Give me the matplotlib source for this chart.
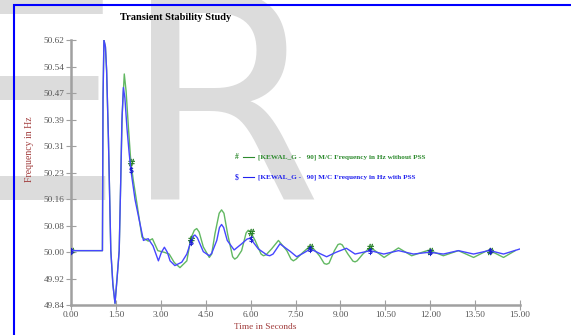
import numpy as np
import matplotlib
matplotlib.use("Agg")
import matplotlib.pyplot as plt
from matplotlib.patches import Rectangle

# ── data ──────────────────────────────────────────────────────
# with PSS (blue)
t_pss = [0.00, 1.05, 1.07, 1.10, 1.15, 1.19, 1.25, 1.33, 1.40, 1.47, 1.54,
         1.61, 1.66, 1.70, 1.75, 1.80, 1.87, 1.94, 2.00, 2.14, 2.28, 2.42,
         2.50, 2.58, 2.74, 2.92, 3.02, 3.12, 3.22, 3.31, 3.47, 3.70, 3.87,
         4.00, 4.08, 4.14, 4.22, 4.42, 4.62, 4.70, 4.87, 4.96, 5.03, 5.10,
         5.22, 5.45, 5.70, 5.88, 5.96, 6.00, 6.26, 6.55, 6.64, 6.75, 6.98,
         7.32, 7.54, 7.75, 8.00, 8.30, 8.54, 8.85, 9.20, 9.49, 10.00, 10.45,
         10.94, 11.44, 11.94, 12.00, 12.44, 12.94, 13.45, 13.95, 14.00,
         14.45, 15.00]
f_pss = [50.000, 50.000, 50.450, 50.620, 50.600, 50.530, 50.330, 50.000,
         49.900, 49.845, 49.920, 50.000, 50.200, 50.380, 50.480, 50.450,
         50.360, 50.290, 50.237, 50.150, 50.090, 50.030, 50.033, 50.035,
         50.014, 49.970, 49.995, 50.010, 49.995, 49.970, 49.956, 49.966,
         49.990, 50.025, 50.042, 50.046, 50.038, 49.997, 49.985, 49.992,
         50.030, 50.068, 50.077, 50.068, 50.030, 50.002, 50.020, 50.034,
         50.036, 50.035, 50.005, 49.987, 49.985, 49.990, 50.020, 49.998,
         49.982, 49.992, 50.005, 49.992, 49.982, 49.995, 50.007, 49.990,
         50.000, 49.990, 50.000, 49.990, 49.995, 49.995, 49.990, 50.000,
         49.990, 50.000, 50.000, 49.990, 50.005]

# without PSS (green)
t_nopss = [0.00, 1.05, 1.07, 1.10, 1.15, 1.19, 1.25, 1.33, 1.40, 1.47, 1.54,
           1.61, 1.66, 1.71, 1.78, 1.84, 1.92, 2.00, 2.08, 2.20, 2.37, 2.58,
           2.72, 2.90, 3.12, 3.28, 3.45, 3.64, 3.87, 4.00, 4.12, 4.20, 4.28,
           4.42, 4.62, 4.70, 4.81, 4.95, 5.03, 5.11, 5.23, 5.40, 5.47, 5.55,
           5.70, 5.85, 5.92, 6.00, 6.15, 6.35, 6.43, 6.52, 6.70, 6.93, 7.21,
           7.35, 7.43, 7.52, 7.75, 7.93, 8.00, 8.08, 8.30, 8.46, 8.54, 8.62,
           8.80, 8.92, 8.99, 9.06, 9.25, 9.42, 9.49, 9.56, 9.75, 10.00,
           10.46, 10.94, 11.38, 11.90, 12.00, 12.44, 12.94, 13.45, 13.90,
           14.00, 14.45, 14.84]
f_nopss = [50.000, 50.000, 50.450, 50.620, 50.600, 50.530, 50.330, 50.000,
           49.900, 49.845, 49.920, 50.000, 50.200, 50.400, 50.520, 50.470,
           50.360, 50.260, 50.208, 50.140, 50.040, 50.028, 50.035, 50.000,
           49.995, 49.990, 49.965, 49.950, 49.970, 50.035, 50.060, 50.065,
           50.055, 50.011, 49.980, 49.990, 50.050, 50.110, 50.120, 50.110,
           50.050, 49.982, 49.975, 49.980, 50.000, 50.052, 50.060, 50.055,
           50.030, 49.990, 49.985, 49.988, 50.005, 50.030, 50.000, 49.975,
           49.970, 49.975, 49.995, 50.009, 50.010, 50.008, 49.985, 49.962,
           49.960, 49.963, 50.000, 50.018, 50.020, 50.017, 49.990, 49.969,
           49.967, 49.970, 49.990, 50.010, 49.980, 50.008, 49.985, 50.000,
           50.000, 49.985, 50.000, 49.980, 50.000, 50.000, 49.980, 50.000]

mark_times = [0, 2, 4, 6, 8, 10, 12, 14]

x_ticks = [0.0, 1.5, 3.0, 4.5, 6.0, 7.5, 9.0, 10.5, 12.0, 13.5, 15.0]
x_labels = ["0.00", "1.50", "3.00", "4.50", "6.00", "7.50", "9.00",
            "10.50", "12.00", "13.50", "15.00"]
y_labels = ["49.84", "49.92", "50.00", "50.08", "50.16", "50.23",
            "50.31", "50.39", "50.47", "50.54", "50.62"]

label_nopss = "[KEWAL_G -   90] M/C Frequency in Hz without PSS"
label_pss = "[KEWAL_G -   90] M/C Frequency in Hz with PSS"

# ── figure ────────────────────────────────────────────────────
plt.rcParams["font.family"] = ["Liberation Serif", "DejaVu Serif"]

fig = plt.figure(figsize=(5.71, 3.35), dpi=100)

# watermark letters behind everything
fig.text(-58 / 571, 1 - 200 / 335, "ER", fontsize=207, family="DejaVu Sans",
         color="#dcdcdc", va="baseline", ha="left", zorder=-5)

# blue frame
fig.patches.append(Rectangle((14 / 571, -0.1), 1.2, (330 / 335) + 0.1,
                             transform=fig.transFigure, fill=False,
                             edgecolor="#0000ff", linewidth=1.5, zorder=-1))

ax = fig.add_axes([71 / 571, 30 / 335, 449 / 571, 265 / 335])
ax.set_facecolor("none")

green = "#62b862"
blue = "#4646ff"

idx_g = [i for i, t in enumerate(t_nopss) if t in mark_times]
idx_b = [i for i, t in enumerate(t_pss) if t in mark_times]

ax.plot(t_nopss, f_nopss, color=green, lw=1.0, marker=r"$\#$",
        markevery=idx_g, markersize=5, markeredgewidth=0.3,
        markerfacecolor="#1e7a1e", markeredgecolor="#1e7a1e", zorder=2)
ax.plot(t_pss, f_pss, color=blue, lw=1.0, marker=r"$\$$",
        markevery=idx_b, markersize=5, markeredgewidth=0.3,
        markerfacecolor="#1a1ad0", markeredgecolor="#1a1ad0", zorder=3)

ax.set_xlim(0, 15)
ax.set_ylim(49.84, 50.62)
ax.set_xticks(x_ticks)
ax.set_xticklabels(x_labels)
ax.set_yticks(np.linspace(49.84, 50.62, len(y_labels)))
ax.set_yticklabels(y_labels)

for s in ["top", "right"]:
    ax.spines[s].set_visible(False)
for s in ["left", "bottom"]:
    ax.spines[s].set_color("#a0a0a0")
    ax.spines[s].set_linewidth(1.8)
ax.tick_params(direction="inout", length=7, width=0.8, color="#a0a0a0",
               labelsize=6.7, labelcolor="#555555", pad=1)

# texts
fig.text(176 / 571, 1 - 18 / 335, "Transient Stability Study", fontsize=7.5,
         fontweight="bold", color="black", ha="center", va="center")
fig.text(30 / 571, 1 - 149 / 335, "Frequency in Hz", rotation=90,
         fontsize=7, color="#a03a3a", ha="center", va="center")
fig.text(265 / 571, 1 - 327 / 335, "Time in Seconds", fontsize=6.7,
         color="#a03a3a", ha="center", va="center")

# legend drawn by hand
fig.text(235 / 571, 1 - 157 / 335, "#", fontsize=5.5, color="#2e8b2e",
         ha="left", va="center", fontweight="bold")
fig.text(235 / 571, 1 - 177 / 335, "$", fontsize=5.5, color="#2222ee",
         ha="left", va="center", fontweight="bold")
fig.lines.append(plt.Line2D([243 / 571, 254 / 571], [1 - 157 / 335] * 2,
                            transform=fig.transFigure, color="#2e8b2e", lw=0.8))
fig.lines.append(plt.Line2D([243 / 571, 254 / 571], [1 - 177 / 335] * 2,
                            transform=fig.transFigure, color="#2222ee", lw=0.8))
fig.text(258 / 571, 1 - 157 / 335, label_nopss, fontsize=5.2,
         color="#2e8b2e", ha="left", va="center", fontweight="bold")
fig.text(258 / 571, 1 - 177 / 335, label_pss, fontsize=5.2,
         color="#2222ee", ha="left", va="center", fontweight="bold")

fig.savefig("out.png", dpi=100)
